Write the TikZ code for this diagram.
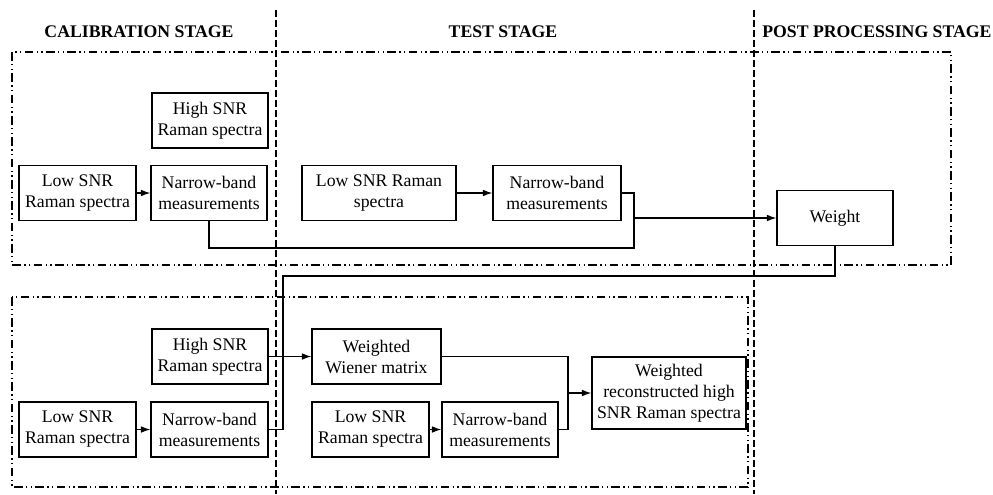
\documentclass[tikz,border=0pt]{standalone}
\usepackage{fontspec}
\setmainfont{Liberation Serif}
\usepackage{tikz}
\usetikzlibrary{arrows.meta}

\begin{document}
\begin{tikzpicture}[x=0.75pt,y=-0.75pt,>={Latex[length=7pt,width=5pt]},font=\fontsize{13.3}{15.75}\selectfont,
  box/.style={draw,line width=1.1pt,minimum height=41.25pt,minimum width=87pt,align=center,inner sep=1pt},
  title/.style={font=\fontsize{13.3}{15.75}\selectfont\bfseries},
  frame/.style={line width=0.8pt,dash pattern=on 6.5pt off 2.5pt on 1pt off 2.5pt on 1pt off 2.5pt},
  stage/.style={line width=0.9pt,dash pattern=on 5pt off 2.5pt},
  link/.style={line width=0.8pt}]
  \useasboundingbox (0,0) rectangle (993,494);

  % stage borders and frames
  \draw[stage] (276,10) -- (276,494);
  \draw[stage] (754,10) -- (754,494);
  \draw[frame] (12,52) rectangle (951,265);
  \draw[frame] (12,297) rectangle (748,487);

  \node[title] (t1) at (139,32) {CALIBRATION STAGE};
  \node[title] (t2) at (503,32) {TEST STAGE};
  \node[title,anchor=west,inner sep=0pt] (t3) at (762,32) {POST PROCESSING STAGE};

  % upper part
  \node[box] (c1) at (210,120.5) {High SNR\\Raman spectra};
  \node[box,minimum width=87.75pt] (c2) at (77.5,193) {Low SNR\\Raman spectra};
  \node[box] (c3) at (209,193) {Narrow-band\\measurements};
  \node[box,minimum width=115.5pt] (c4) at (379,193) {Low SNR Raman\\spectra};
  \node[box,minimum width=96pt] (c5) at (557,193) {Narrow-band\\measurements};
  \node[box] (c6) at (835,218) {Weight};

  % lower part
  \node[box] (d1) at (210,356.5) {High SNR\\Raman spectra};
  \node[box,minimum width=87.75pt] (d2) at (77.5,429.5) {Low SNR\\Raman spectra};
  \node[box,minimum width=87.75pt] (d3) at (209.5,429.5) {Narrow-band\\measurements};
  \node[box,minimum width=96.75pt] (d4) at (376.5,356.5) {Weighted\\Wiener matrix};
  \node[box,minimum width=87.75pt] (d5) at (370.5,429.5) {Low SNR\\Raman spectra};
  \node[box] (d6) at (500,429.5) {Narrow-band\\measurements};
  \node[box,minimum width=115.5pt,minimum height=54pt] (d7) at (669,393) {Weighted\\reconstructed high\\SNR Raman spectra};

  \coordinate (j1) at (634,218);
  \coordinate (b1) at (634,248);
  \coordinate (j2) at (283,276);
  \coordinate (j3) at (568,393);

  \draw[link,->] (c2) -- (c3);
  \draw[link,->] (c4) -- (c5);
  \draw[link] (c3.south) |- (b1) -- (j1);
  \draw[link] (c5.east) -| (j1);
  \draw[link,->] (j1) -- (c6.west);
  \draw[link] (c6.south) |- (j2) |- (d3.east);
  \draw[link,->] (d1) -- (d4);
  \draw[link,->] (d2) -- (d3);
  \draw[link,->] (d5) -- (d6);
  \draw[link] (d4.east) -| (j3);
  \draw[link] (d6.east) -| (j3);
  \draw[link,->] (j3) -- (d7.west);
\end{tikzpicture}
\end{document}
